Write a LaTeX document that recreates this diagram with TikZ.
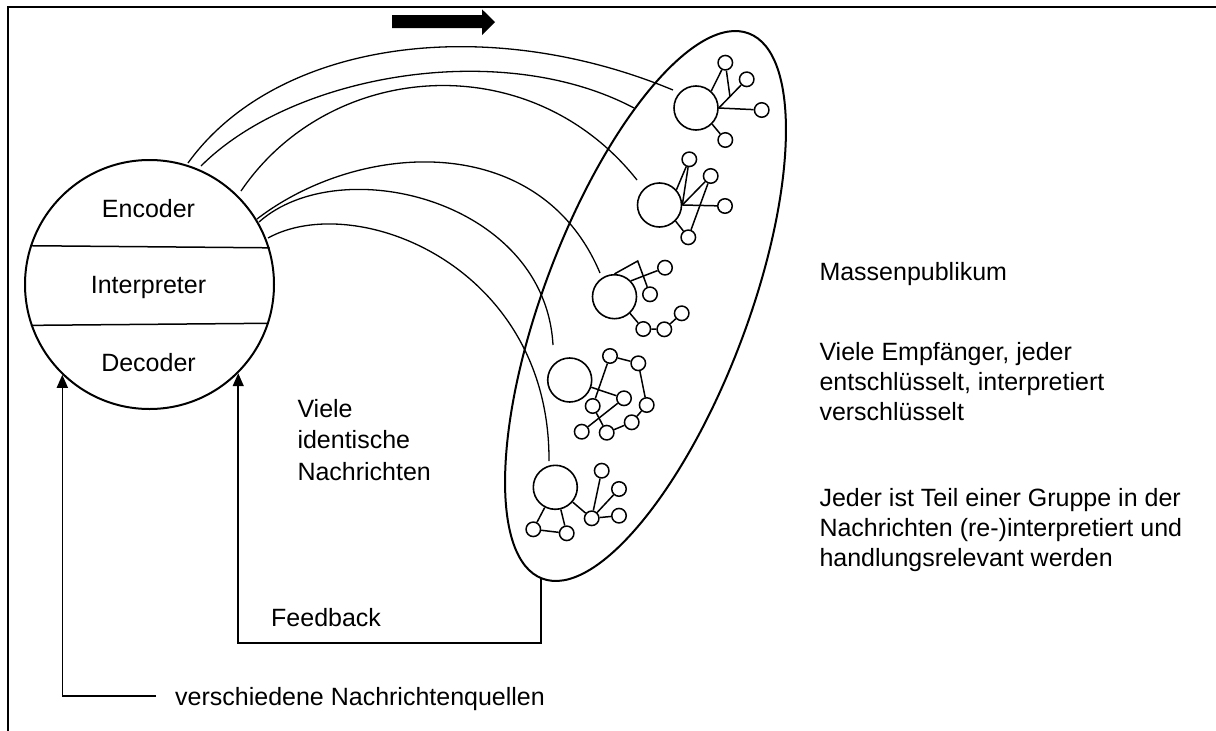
\documentclass[tikz,border=0pt]{standalone}
\usepackage{fontspec}
\setmainfont{Liberation Sans}
\usetikzlibrary{shapes.geometric,arrows.meta,calc}
\begin{document}
\begin{tikzpicture}[x=1pt,y=-1pt,
  lbl/.style={inner sep=0pt, font=\fontsize{25}{30}\selectfont, align=left},
  hub/.style={circle, draw, line width=1.6pt, minimum size=44pt, inner sep=0pt},
  sm/.style={circle, draw, line width=1.5pt, minimum size=14.5pt, inner sep=0pt},
  link/.style={line width=1.5pt},
  msg/.style={line width=1.3pt},
  fb/.style={line width=1.5pt, -{Triangle[length=13pt,width=11pt]}},
]
\useasboundingbox (0,0) rectangle (1216,731);

% frame
\draw[line width=2pt] (7.5,731) -- (7.5,6.5) -- (1216,6.5);

% direction arrow
\fill (392,15) -- (482,15) -- (482,9.3) -- (495,22) -- (482,35) -- (482,28) -- (392,28) -- cycle;

% communicator
\node[circle, draw, line width=2pt, minimum size=249pt, inner sep=0pt] (comm) at (149.5,284.5) {};
\draw[line width=1.5pt] (comm.162.8) -- (comm.17.2);
\draw[line width=1.5pt] (comm.-161.4) -- (comm.-18.6);
\node[lbl, anchor=base] (enc) at (148.5,217) {Encoder};
\node[lbl, anchor=base] (int) at (148.5,293) {Interpreter};
\node[lbl, anchor=base] (dec) at (148.5,371) {Decoder};

% mass audience
\node[ellipse, draw, line width=2pt, rotate=69.25, minimum width=583pt, minimum height=203.6pt, inner sep=0pt] (crowd) at (645.5,306) {};

% group 1
\node[hub] (g1) at (696,108) {};
\node[sm] (g1a) at (725.3,62.7) {};
\node[sm] (g1b) at (746.7,79.3) {};
\node[sm] (g1c) at (761.7,110) {};
\node[sm] (g1d) at (725.3,140) {};
\draw[link] (g1.48) -- (g1a);
\draw[link] (g1.0) -- (g1b);
\draw[link] (g1.0) -- (g1c);
\draw[link] ($(g1.0)!0.4!(g1b)$) -- (g1a);
\draw[link] (g1.-45) -- (g1d);

% group 2
\node[hub] (g2) at (659.5,205) {};
\node[sm] (g2a) at (689.3,159.3) {};
\node[sm] (g2b) at (710.7,176) {};
\node[sm] (g2c) at (725,206) {};
\node[sm] (g2d) at (688.3,237.3) {};
\draw[link] (g2.42) -- (g2a);
\draw[link] (g2.0) -- (g2a);
\draw[link] (g2.0) -- (g2b);
\draw[link] (g2.0) -- (g2c);
\draw[link] (g2.-45) -- (g2d);
\draw[link] (g2b) -- (g2d);

% group 3
\node[hub] (g3) at (614.5,296.7) {};
\node[sm] (g3a) at (650,294.3) {};
\node[sm] (g3b) at (665,267.7) {};
\node[sm] (g3c) at (643.3,329) {};
\node[sm] (g3d) at (664.3,329.3) {};
\node[sm] (g3e) at (681.7,313.3) {};
\coordinate (g3k) at (637.7,261);
\draw[link] (g3.90) -- (g3k) -- (g3a);
\draw[link] (g3.44) -- (g3b);
\draw[link] (g3.-47) -- (g3c);
\draw[link] (g3c) -- (g3d);
\draw[link] (g3d) -- (g3e);

% group 4
\node[hub] (g4) at (569.7,380) {};
\node[sm] (g4a) at (610,356) {};
\node[sm] (g4b) at (638.3,363.3) {};
\node[sm] (g4c) at (624,398.3) {};
\node[sm] (g4d) at (592.7,406) {};
\node[sm] (g4e) at (646.7,405) {};
\node[sm] (g4f) at (631.7,422.3) {};
\node[sm] (g4g) at (606.7,432.7) {};
\node[sm] (g4h) at (581.7,431.7) {};
\draw[link] (g4) -- (g4c);
\draw[link] (g4a) -- (g4b);
\draw[link] (g4b) -- (g4e);
\draw[link] (g4e) -- (g4f);
\draw[link] (g4f) -- (g4g);
\draw[link] (g4a) -- (g4d);
\draw[link] (g4d) -- (g4g);
\draw[link] (g4c) -- (g4h);

% group 5
\node[hub] (g5) at (555.3,487.3) {};
\node[sm] (g5a) at (601.7,470.7) {};
\node[sm] (g5b) at (619,489) {};
\node[sm] (g5c) at (619,515.7) {};
\node[sm] (g5d) at (591.7,518.3) {};
\node[sm] (g5e) at (533.3,529.3) {};
\node[sm] (g5f) at (566.7,533.3) {};
\draw[link] (g5) -- (g5d);
\draw[link] (g5d) -- (g5a);
\draw[link] (g5d) -- (g5b);
\draw[link] (g5d) -- (g5c);
\draw[link] (g5) -- (g5e);
\draw[link] (g5) -- (g5f);
\draw[link] (g5e) -- (g5f);

% identical messages
\coordinate (m1s) at (188,163); \coordinate (m1e) at (673,90);
\coordinate (m2s) at (201,166); \coordinate (m2e) at (634,108);
\coordinate (m3s) at (241,191); \coordinate (m3e) at (637,180);
\coordinate (m4s) at (257,219); \coordinate (m4e) at (600,273);
\coordinate (m5s) at (259,222); \coordinate (m5e) at (553,345);
\coordinate (m6s) at (268,238); \coordinate (m6e) at (549,461);
\draw[msg] (m1s) .. controls (276,41) and (485,12) .. (m1e);
\draw[msg] (m2s) .. controls (293,74) and (502,38) .. (m2e);
\draw[msg] (m3s) .. controls (330,60) and (530,45) .. (m3e);
\draw[msg] (m4s) .. controls (360,140) and (540,130) .. (m4e);
\draw[msg] (m5s) .. controls (340,150) and (545,200) .. (m5e);
\draw[msg] (m6s) .. controls (355,190) and (550,265) .. (m6e);

% labels (multi-line nodes sit on the baseline of their last line)
\node[lbl, anchor=base west] (crowdlbl) at (819.3,280) {Massenpublikum};
\node[lbl, anchor=base west] (recv) at (819.3,420) {Viele Empfänger, jeder\\entschlüsselt, interpretiert\\verschlüsselt};
\node[lbl, anchor=base west] (grp) at (819.3,566.5) {Jeder ist Teil einer Gruppe in der\\Nachrichten (re-)interpretiert und\\handlungsrelevant werden};
\node[lbl, anchor=base west, font=\fontsize{25}{31.3}\selectfont] (msgs) at (297.3,480) {Viele\\identische\\Nachrichten};
\node[lbl, anchor=base west] (fbl) at (271,626) {Feedback};
\node[lbl, anchor=base west] (src) at (175,705) {verschiedene Nachrichtenquellen};

% feedback and sources
\coordinate (fbs) at (541,579);
\draw[fb] (fbs) -- (541,643) -| (comm.-45.5);
\coordinate (srcend) at (156,696);
\draw[fb] (srcend) -| (comm.-134.5);
\end{tikzpicture}
\end{document}
